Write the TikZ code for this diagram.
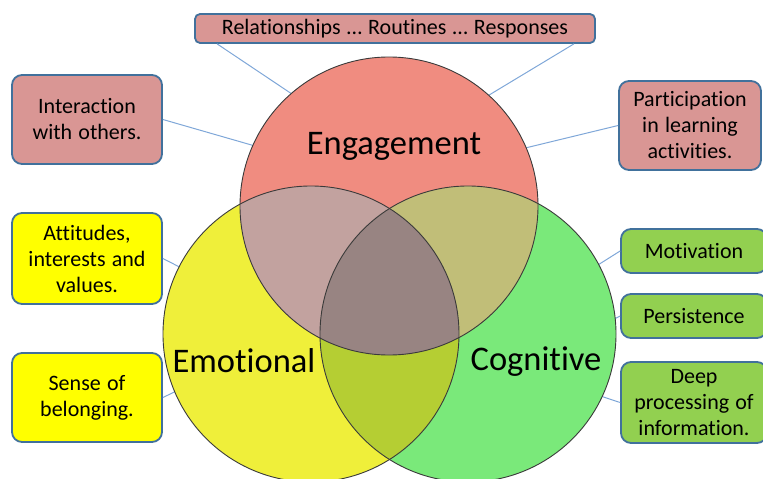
\documentclass[tikz,border=0pt]{standalone}
\usepackage{fontspec}
\setmainfont{Carlito}[Ligatures={NoCommon},WordSpace=1.25]
\definecolor{cE}{HTML}{F08C80}
\definecolor{cEm}{HTML}{EFEF3A}
\definecolor{cC}{HTML}{7AE97A}
\definecolor{cEEm}{HTML}{C2A29F}
\definecolor{cEC}{HTML}{C1BE78}
\definecolor{cEmC}{HTML}{B5CE33}
\definecolor{cAll}{HTML}{988482}
\definecolor{rose}{HTML}{D99694}
\definecolor{ybox}{HTML}{FFFF00}
\definecolor{gbox}{HTML}{92D050}
\definecolor{bord}{HTML}{41719C}
\definecolor{conn}{HTML}{7FA7D8}
\definecolor{outl}{HTML}{3A3A3A}
\begin{document}
\begin{tikzpicture}[x=1pt,y=-1pt,
  ring/.style={circle,minimum size=#1,inner sep=0pt,outer sep=0pt},
  box/.style={draw=bord,line width=1.8pt,rounded corners=10pt,inner sep=0pt,
    align=center,font=\fontsize{22}{26}\selectfont},
  conline/.style={draw=conn,line width=1pt},
  outline/.style={draw=outl,line width=0.9pt},
  big/.style={font=\fontsize{34.5}{40}\selectfont}]
\useasboundingbox (0,0) rectangle (763,479);
% anchor nodes for circles
\node[ring=298pt] (E) at (389,206) {};
\node[ring=296pt] (Em) at (311,334) {};
\node[ring=296pt] (C) at (468,334) {};
% boxes
\node[box,fill=rose,rounded corners=5pt,minimum width=400pt,minimum height=29pt] (top) at (395,28.5) {Relationships … Routines … Responses};
\node[box,fill=rose,minimum width=150pt,minimum height=89pt] (int) at (87,119.5) {Interaction\\with others.};
\node[box,fill=rose,minimum width=142pt,minimum height=89pt] (part) at (690,125.5) {Participation\\in learning\\activities.};
\node[box,fill=ybox,minimum width=150pt,minimum height=91pt] (att) at (87,258.5) {Attitudes,\\interests and\\values.};
\node[box,fill=ybox,minimum width=150pt,minimum height=89pt] (sense) at (87,397.5) {Sense of\\belonging.};
\node[box,fill=gbox,minimum width=146pt,minimum height=44pt] (mot) at (694,251) {Motivation};
\node[box,fill=gbox,minimum width=146pt,minimum height=44pt] (per) at (694,316) {Persistence};
\node[box,fill=gbox,minimum width=146pt,minimum height=81pt] (deep) at (694,402.5) {Deep\\processing of\\information.};
% connectors
\draw[conline] ([xshift=23pt]top.south west) -- (E.131);
\draw[conline] ([xshift=-22pt]top.south east) -- (E.48);
\draw[conline] (int.east) -- (E.156);
\draw[conline] (part.west) -- (E.23.5);
\draw[conline] (att.east) -- (Em.153);
\draw[conline] (sense.east) -- (Em.203);
\draw[conline] (mot.west) -- (C.28);
\draw[conline] (per.west) -- (C.6.5);
\draw[conline] (deep.west) -- (C.-25);
% fills
\fill[cEm] (Em.center) circle (148pt);
\fill[cC] (C.center) circle (148pt);
\fill[cE] (E.center) circle (149pt);
\begin{scope}
  \clip (Em.center) circle (148pt);
  \fill[cEmC] (C.center) circle (148pt);
\end{scope}
\begin{scope}
  \clip (E.center) circle (149pt);
  \fill[cEEm] (Em.center) circle (148pt);
  \fill[cEC] (C.center) circle (148pt);
  \clip (Em.center) circle (148pt);
  \fill[cAll] (C.center) circle (148pt);
\end{scope}
\draw[outline] (Em.center) circle (148pt);
\draw[outline] (C.center) circle (148pt);
\draw[outline] (E.center) circle (149pt);
% labels
\node[big] (lE) at (394,146) {Engagement};
\node[big] (lEm) at (244,361) {Emotional};
\node[big] (lC) at (536,362) {Cognitive};
\end{tikzpicture}
\end{document}
